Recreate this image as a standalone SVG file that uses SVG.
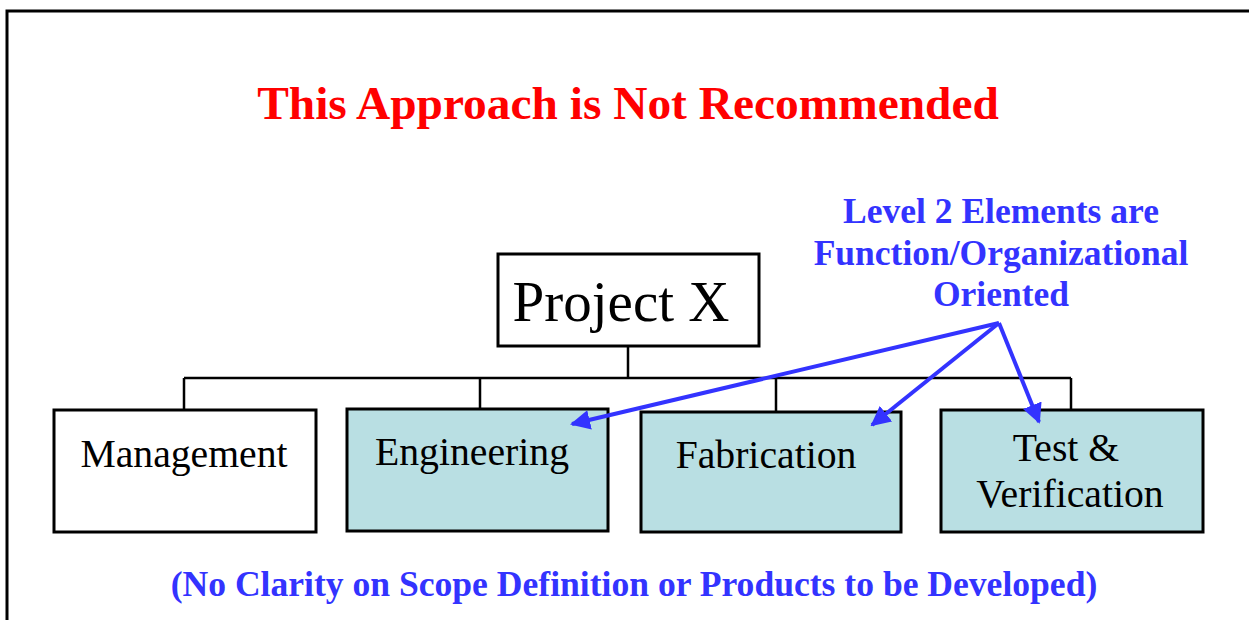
<svg xmlns="http://www.w3.org/2000/svg" width="1249" height="620" viewBox="0 0 1249 620">
<defs>
<style>
.frame{fill:none;stroke:#000;stroke-width:3}
.box{stroke:#000;stroke-width:3}
.plain{fill:#fff}
.teal{fill:#B9DFE3}
.conn{fill:none;stroke:#000;stroke-width:2.5}
.arrow{fill:none;stroke:#3333FF;stroke-width:4}
.lbl{font-family:"Liberation Serif","Times New Roman",serif;fill:#000;text-anchor:middle;font-size:39.7px}
.blue{font-family:"Liberation Serif","Times New Roman",serif;font-weight:bold;fill:#3333FF;text-anchor:middle}
.red{font-family:"Liberation Serif","Times New Roman",serif;font-weight:bold;fill:#FF0000;text-anchor:middle}
</style>
<marker id="ah" viewBox="0 0 10 10" refX="9" refY="5" markerWidth="5" markerHeight="5" orient="auto" markerUnits="strokeWidth">
<path d="M0,0 L10,5 L0,10 z" fill="#3333FF"/>
</marker>
</defs>
<rect width="1249" height="620" fill="#fff"/>
<path class="frame" d="M7,620 L7,11 L1249,11"/>
<text class="red" x="628" y="119" font-size="47.4">This Approach is Not Recommended</text>
<g id="connectors">
<path class="conn" d="M628,346 L628,378 M184,378 L1071,378 M184,378 L184,410 M480,378 L480,409 M776,378 L776,412 M1071,378 L1071,410"/>
</g>
<g id="project-x">
<rect class="box plain" x="498" y="254" width="261" height="92"/>
<text class="lbl" x="621" y="321" style="font-size:57px">Project X</text>
</g>
<g id="management">
<rect class="box plain" x="54" y="410" width="262" height="122"/>
<text class="lbl" x="184" y="467">Management</text>
</g>
<g id="engineering">
<rect class="box teal" x="347" y="409" width="261" height="122"/>
<text class="lbl" x="472" y="465">Engineering</text>
</g>
<g id="fabrication">
<rect class="box teal" x="641" y="412" width="260" height="120"/>
<text class="lbl" x="766" y="468">Fabrication</text>
</g>
<g id="test-verification">
<rect class="box teal" x="941" y="410" width="262" height="122"/>
<text class="lbl" x="1066" y="461">Test &amp;</text>
<text class="lbl" x="1070" y="507">Verification</text>
</g>
<g id="callout">
<text class="blue" x="1001" y="223" font-size="35.5">Level 2 Elements are</text>
<text class="blue" x="1001" y="265" font-size="35.5">Function/Organizational</text>
<text class="blue" x="1001" y="306" font-size="35.5">Oriented</text>
</g>
<g id="callout-arrows">
<path class="arrow" d="M999,323 L572,424" marker-end="url(#ah)"/>
<path class="arrow" d="M999,323 L872,425" marker-end="url(#ah)"/>
<path class="arrow" d="M999,323 L1039,422" marker-end="url(#ah)"/>
</g>
<text class="blue" x="634" y="596" font-size="35.6">(No Clarity on Scope Definition or Products to be Developed)</text>
</svg>
